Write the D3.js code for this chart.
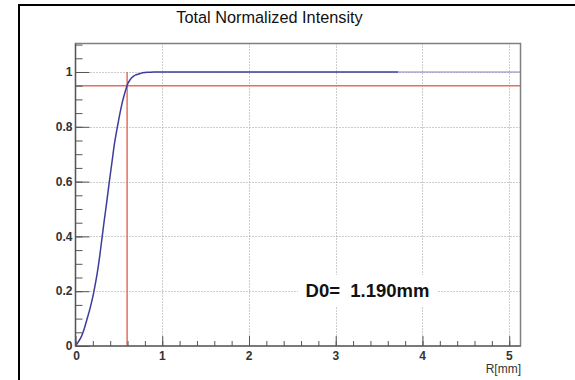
<!DOCTYPE html>
<html>
<head>
<meta charset="utf-8">
<script src="https://cdn.jsdelivr.net/npm/d3@7"></script>
<style>
  html, body { margin: 0; padding: 0; background: #fff; }
  svg { display: block; font-family: "Liberation Sans", Arial, Helvetica, sans-serif; }
</style>
</head>
<body>
<svg id="chart" width="575" height="380"></svg>
<script>
// ---- data ----
const title = "Total Normalized Intensity";
const xLabel = "R[mm]";
const annotation = "D0=  1.190mm";
const radius = [0, 0.03, 0.07, 0.1, 0.13, 0.17, 0.2, 0.22, 0.25, 0.28, 0.3, 0.33, 0.36, 0.39, 0.42, 0.45, 0.48, 0.51, 0.54, 0.57, 0.6, 0.63, 0.67, 0.7, 0.75, 0.8, 0.85, 0.9, 1.0, 1.5, 2.0, 2.5, 3.0, 3.5, 3.72];
const intensity = [0, 0.014, 0.036, 0.062, 0.095, 0.14, 0.18, 0.212, 0.265, 0.33, 0.38, 0.455, 0.525, 0.6, 0.67, 0.74, 0.795, 0.845, 0.89, 0.925, 0.955, 0.972, 0.985, 0.99, 0.995, 0.998, 0.999, 1.0, 1.0, 1.0, 1.0, 1.0, 1.0, 1.0, 1.0];
const tailRadius = [3.72, 5.13];
const tailIntensity = [1.0, 1.0];
const thresholdLevel = 0.95;   // horizontal red line
const thresholdRadius = 0.595; // vertical red line (D0/2)
const xMajorTicks = [0, 1, 2, 3, 4, 5];
const xMinorTicks = d3.range(0, 5.13, 0.2);
const yMajorTicks = [0, 0.2, 0.4, 0.6, 0.8, 1];
const yMinorTicks = d3.range(0, 1.11, 0.05);
const yTickLabels = ["0", "0.2", "0.4", "0.6", "0.8", "1"];
const xTickLabels = ["0", "1", "2", "3", "4", "5"];

// ---- layout ----
const svg = d3.select("#chart");
const pL = 75.5, pR = 520.5, pT = 43.5, pB = 346;
const x = d3.scaleLinear().domain([0, 5.13]).range([pL, pR]);
const y = d3.scaleLinear().domain([0, 1.104]).range([pB, pT]);

// outer canvas frame
svg.append("rect").attr("x", 19).attr("y", 5).attr("width", 700).attr("height", 500)
  .attr("fill", "none").attr("stroke", "#000").attr("stroke-width", 2);

// title
svg.append("text").attr("x", 269.5).attr("y", 23).attr("text-anchor", "middle")
  .attr("font-size", 16.3).attr("fill", "#111").text(title);

// grid
const grid = svg.append("g").attr("stroke", "#9a9a9a").attr("stroke-width", 1).attr("stroke-dasharray", "1,2");
grid.selectAll("line.gx").data(xMajorTicks.filter(d => d > 0)).join("line")
  .attr("class", "gx")
  .attr("x1", d => Math.round(x(d)) + 0.5).attr("x2", d => Math.round(x(d)) + 0.5)
  .attr("y1", pT).attr("y2", pB);
grid.selectAll("line.gy").data(yMajorTicks.filter(d => d > 0)).join("line")
  .attr("class", "gy")
  .attr("x1", pL).attr("x2", pR)
  .attr("y1", d => Math.round(y(d)) + 0.5).attr("y2", d => Math.round(y(d)) + 0.5);

// annotation box (white) + text
svg.append("rect").attr("x", 298).attr("y", 275).attr("width", 139).attr("height", 32).attr("fill", "#fff");
svg.append("text").attr("x", 367.5).attr("y", 297).attr("text-anchor", "middle")
  .style("white-space", "pre").attr("xml:space", "preserve")
  .attr("font-size", 18.5).attr("font-weight", "bold").attr("fill", "#111").text(annotation);

// red threshold lines
svg.append("line").attr("x1", x(0)).attr("x2", x(5.13))
  .attr("y1", y(thresholdLevel)).attr("y2", y(thresholdLevel))
  .attr("stroke", "#e3705f").attr("stroke-width", 1.5);
svg.append("line").attr("x1", x(thresholdRadius)).attr("x2", x(thresholdRadius))
  .attr("y1", y(0)).attr("y2", y(1))
  .attr("stroke", "#e3705f").attr("stroke-width", 1.5);

// curve
const line = d3.line().x(d => x(d[0])).y(d => y(d[1])).curve(d3.curveMonotoneX);
svg.append("path").datum(d3.zip(tailRadius, tailIntensity)).attr("d", line)
  .attr("fill", "none").attr("stroke", "#8484c4").attr("stroke-width", 1.2);
svg.append("path").datum(d3.zip(radius, intensity)).attr("d", line)
  .attr("fill", "none").attr("stroke", "#3c3c9e").attr("stroke-width", 1.5);

// plot frame
svg.append("rect").attr("x", pL).attr("y", pT).attr("width", pR - pL).attr("height", pB - pT)
  .attr("fill", "none").attr("stroke", "#808080").attr("stroke-width", 1.5);

// axes (ROOT-style inward ticks)
const xAxisMajor = d3.axisTop(x).tickValues(xMajorTicks).tickSize(10).tickFormat("");
const xAxisMinor = d3.axisTop(x).tickValues(xMinorTicks).tickSize(5).tickFormat("");
const yAxisMajor = d3.axisRight(y).tickValues(yMajorTicks).tickSize(14).tickFormat("");
const yAxisMinor = d3.axisRight(y).tickValues(yMinorTicks).tickSize(7).tickFormat("");
[xAxisMinor, xAxisMajor].forEach(a => {
  const g = svg.append("g").attr("transform", `translate(0,${pB})`).call(a);
  g.select(".domain").remove();
  g.selectAll("line").attr("stroke", "#555").attr("stroke-width", 1);
});
[yAxisMinor, yAxisMajor].forEach(a => {
  const g = svg.append("g").attr("transform", `translate(${pL},0)`).call(a);
  g.select(".domain").remove();
  g.selectAll("line").attr("stroke", "#555").attr("stroke-width", 1);
});
svg.append("line").attr("x1", pL).attr("x2", pR).attr("y1", pB).attr("y2", pB)
  .attr("stroke", "#555").attr("stroke-width", 1.2);
svg.append("line").attr("x1", pL).attr("x2", pL).attr("y1", pT).attr("y2", pB)
  .attr("stroke", "#555").attr("stroke-width", 1.2);

// tick labels
svg.append("g").selectAll("text").data(xMajorTicks).join("text")
  .attr("x", (d, i) => x(d) + (i === 0 ? 1 : 0)).attr("y", 359.5).attr("text-anchor", "middle")
  .attr("font-size", 12).attr("font-weight", "bold").attr("fill", "#333")
  .text((d, i) => xTickLabels[i]);
svg.append("g").selectAll("text").data(yMajorTicks).join("text")
  .attr("x", 72.5).attr("y", d => y(d) + 4.3).attr("text-anchor", "end")
  .attr("font-size", 12).attr("font-weight", "bold").attr("fill", "#333")
  .text((d, i) => yTickLabels[i]);

// axis title
svg.append("text").attr("x", 521).attr("y", 372.5).attr("text-anchor", "end")
  .attr("font-size", 12).attr("fill", "#333").text(xLabel);
</script>
</body>
</html>
